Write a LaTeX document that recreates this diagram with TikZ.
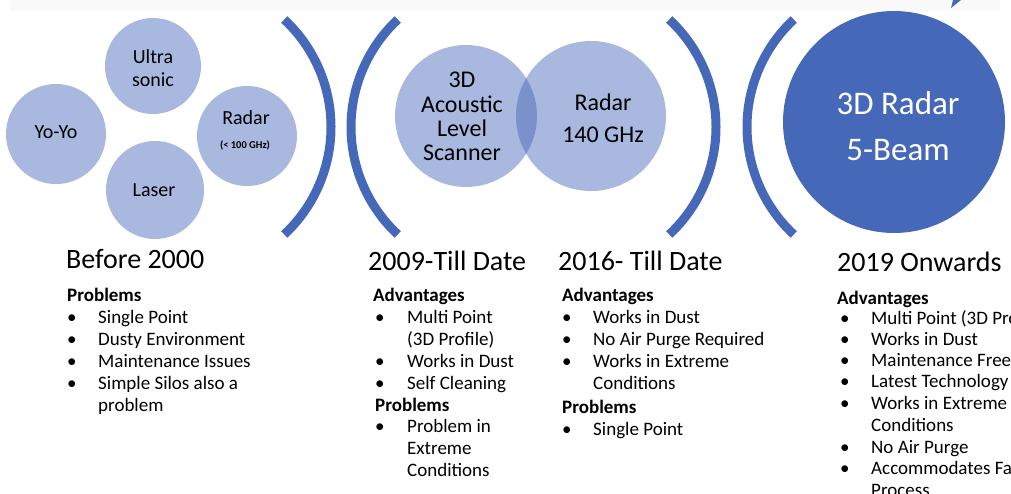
\documentclass[tikz,border=0pt]{standalone}
\usepackage{fontspec}
\setmainfont{Carlito}
\definecolor{mainblue}{RGB}{70,104,184}
\tikzset{
  lightcirc/.style={circle, fill=mainblue, fill opacity=0.47, draw=none, inner sep=0pt},
  bigcirc/.style={circle, fill=mainblue, draw=none, inner sep=0pt},
  bracket/.style={draw=mainblue, line width=9pt},
  ctext/.style={inner sep=0pt, anchor=center, font=\fontsize{20}{22}\selectfont, text=black},
  mtext/.style={inner sep=0pt, anchor=center, font=\fontsize{24}{26}\selectfont, text=black},
  wtext/.style={inner sep=0pt, anchor=center, font=\fontsize{33}{36}\selectfont, text=white},
  head/.style={inner sep=0pt, anchor=base west, font=\fontsize{28}{30}\selectfont, text=black},
  sub/.style={inner sep=0pt, anchor=base west, font=\fontsize{19}{22}\selectfont\bfseries, text=black},
  item/.style={inner sep=0pt, anchor=base west, font=\fontsize{19}{22}\selectfont, text=black},
  bul/.style={inner sep=0pt, anchor=base west, font=\fontsize{19}{22}\selectfont, text=black},
}
\begin{document}
\begin{tikzpicture}[x=1pt,y=-1pt]
\useasboundingbox (0,0) rectangle (1011,494);
\clip (0,0) rectangle (1011,494);
% faint header band and arrow tip
\fill[black!2.5] (10,0) rectangle (1000,11);
\fill[mainblue] (951,8) -- (953,0) -- (961,0) -- cycle;

% group 1
\node[lightcirc, minimum size=96pt] (cultra) at (153,66) {};
\node[lightcirc, minimum size=100pt] (cyoyo) at (56,134) {};
\node[lightcirc, minimum size=100pt] (cradar) at (247,136) {};
\node[lightcirc, minimum size=98pt] (claser) at (155,190) {};
\node[ctext] (tultra) at (153,57) {Ultra};
\node[ctext] (tsonic) at (153,80) {sonic};
\node[ctext] (tyoyo) at (56,132) {Yo-Yo};
\node[ctext] (tradar) at (246,118) {Radar};
\node[inner sep=0pt, font=\fontsize{10.5}{12}\selectfont\bfseries] (tghz) at (245,145) {(< 100 GHz)};
\node[ctext] (tlaser) at (154,190) {Laser};

% brackets
\draw[bracket] (184,127) ++(-47:147) arc[start angle=-47, end angle=47, radius=147];
\draw[bracket] (498,127) ++(133:147) arc[start angle=133, end angle=227, radius=147];
\draw[bracket] (569,127) ++(-47:147) arc[start angle=-47, end angle=47, radius=147];
\draw[bracket] (894,127) ++(133:147) arc[start angle=133, end angle=227, radius=147];

% group 2
\node[lightcirc, minimum size=142pt] (cacou) at (466,116) {};
\node[lightcirc, minimum size=150pt] (cr140) at (591,116) {};
\node[mtext] (t3d) at (462,80) {3D};
\node[mtext] (tacou) at (462,104) {Acoustic};
\node[mtext] (tlevel) at (462,128) {Level};
\node[mtext] (tscan) at (462,153) {Scanner};
\node[mtext] (tr140) at (603,102) {Radar};
\node[mtext] (t140) at (603,135) {140 GHz};

% group 3
\node[bigcirc, minimum size=222pt] (cbig) at (894,122) {};
\node[wtext] (t3dr) at (898,103) {3D Radar};
\node[wtext] (t5b) at (898,150) {5-Beam};

% column 1
\node[head] (h1) at (66,268) {Before 2000};
\node[sub] (p1) at (67,301) {Problems};
\node[bul] (b11) at (67,323) {•}; \node[item] (i11) at (98,323) {Single Point};
\node[bul] (b12) at (67,345) {•}; \node[item] (i12) at (98,345) {Dusty Environment};
\node[bul] (b13) at (67,367) {•}; \node[item] (i13) at (98,367) {Maintenance Issues};
\node[bul] (b14) at (67,389) {•}; \node[item] (i14) at (98,389) {Simple Silos also a};
\node[item] (i15) at (98,411) {problem};

% column 2
\node[head] (h2) at (368,270) {2009-Till Date};
\node[sub] (a2) at (373,301) {Advantages};
\node[bul] (b21) at (375,323) {•}; \node[item] (i21) at (407,323) {Multi Point};
\node[item] (i22) at (407,345) {(3D Profile)};
\node[bul] (b23) at (375,367) {•}; \node[item] (i23) at (407,367) {Works in Dust};
\node[bul] (b24) at (375,389) {•}; \node[item] (i24) at (407,389) {Self Cleaning};
\node[sub] (p2) at (375,411) {Problems};
\node[bul] (b25) at (375,432) {•}; \node[item] (i25) at (407,432) {Problem in};
\node[item] (i26) at (407,454) {Extreme};
\node[item] (i27) at (407,476) {Conditions};

% column 3
\node[head] (h3) at (558,270) {2016- Till Date};
\node[sub] (a3) at (562,301) {Advantages};
\node[bul] (b31) at (562,323) {•}; \node[item] (i31) at (593,323) {Works in Dust};
\node[bul] (b32) at (562,345) {•}; \node[item] (i32) at (593,345) {No Air Purge Required};
\node[bul] (b33) at (562,367) {•}; \node[item] (i33) at (593,367) {Works in Extreme};
\node[item] (i34) at (593,389) {Conditions};
\node[sub] (p3) at (562,413) {Problems};
\node[bul] (b35) at (562,435) {•}; \node[item] (i35) at (593,435) {Single Point};

% column 4
\node[head] (h4) at (837,272) {2019 Onwards};
\node[sub] (a4) at (837,304) {Advantages};
\node[bul] (b41) at (840,324) {•}; \node[item] (i41) at (871,324) {Multi Point (3D Profile)};
\node[bul] (b42) at (840,345) {•}; \node[item] (i42) at (871,345) {Works in Dust};
\node[bul] (b43) at (840,366) {•}; \node[item] (i43) at (871,366) {Maintenance Free};
\node[bul] (b44) at (840,387) {•}; \node[item] (i44) at (871,387) {Latest Technology};
\node[bul] (b45) at (840,409) {•}; \node[item] (i45) at (871,409) {Works in Extreme};
\node[item] (i46) at (871,431) {Conditions};
\node[bul] (b47) at (840,453) {•}; \node[item] (i47) at (871,453) {No Air Purge};
\node[bul] (b48) at (840,474) {•}; \node[item] (i48) at (871,474) {Accommodates Fa};
\node[item] (i49) at (871,496) {Process};
\end{tikzpicture}
\end{document}
